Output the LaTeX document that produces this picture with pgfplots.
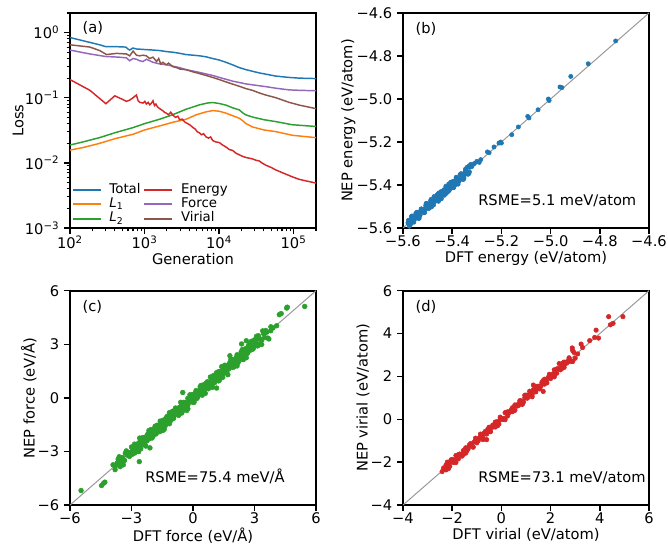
\documentclass[border=0pt]{standalone}
\usepackage{pgfplots}
\pgfplotsset{compat=1.18}
\usepackage{fontspec}
\setmainfont{DejaVu Sans}
\definecolor{tabblue}{HTML}{1F77B4}
\definecolor{taborange}{HTML}{FF7F0E}
\definecolor{tabgreen}{HTML}{2CA02C}
\definecolor{tabred}{HTML}{D62728}
\definecolor{tabpurple}{HTML}{9467BD}
\definecolor{tabbrown}{HTML}{8C564B}
\definecolor{diag}{HTML}{999999}
\pgfplotsset{
  panel/.style={
    scale only axis, width=184.5pt,
    axis line style={line width=1.4pt},
    tick align=outside, tick pos=left,
    major tick length=4.5pt, minor tick length=2.6pt,
    every major tick/.append style={line width=1.1pt, black},
    every minor tick/.append style={line width=0.8pt, black},
    tick label style={font=\fontsize{11}{13}\selectfont},
    xticklabel style={yshift=2pt},
    label style={font=\fontsize{11}{13}\selectfont},
    xlabel shift=-4pt, ylabel shift=-6pt,
  },
  scat/.style={only marks, mark=*, mark size=#1},
}
\newcommand{\tfont}{\fontsize{11}{13}\selectfont}
\begin{document}
\begin{tikzpicture}
\useasboundingbox (0,0) rectangle (501pt,410.25pt);
% ---------------- (a)
\begin{axis}[panel, at={(52.5pt,239.25pt)}, anchor=south west, height=161.25pt,
  xmode=log, ymode=log, xmin=100, xmax=2e5, ymin=1e-3, ymax=2,
  xtick={100,1000,10000,100000},
  xticklabels={10\textsuperscript{2},10\textsuperscript{3},10\textsuperscript{4},10\textsuperscript{5}},
  minor xtick={200,300,400,500,600,700,800,900,2000,3000,4000,5000,6000,7000,8000,9000,20000,30000,40000,50000,60000,70000,80000,90000,200000},
  ytick={0.001,0.01,0.1,1},
  yticklabels={10\textsuperscript{−3},10\textsuperscript{−2},10\textsuperscript{−1},10\textsuperscript{0}},
  minor ytick={0.002,0.003,0.004,0.005,0.006,0.007,0.008,0.009,0.02,0.03,0.04,0.05,0.06,0.07,0.08,0.09,0.2,0.3,0.4,0.5,0.6,0.7,0.8,0.9,2},
  xlabel={Generation}, ylabel={Loss},
  legend columns=3, transpose legend,
  legend cell align=left,
  legend image code/.code={\draw[#1, line width=1.5pt] (0pt,0pt) -- (21pt,0pt);},
  legend style={at={(rel axis cs:0.0,0.0)}, anchor=south west, draw=none, fill=none,
    inner sep=0pt, yshift=1.5pt, xshift=1pt,
    font=\fontsize{10}{11}\selectfont, row sep=0pt,
    nodes={inner sep=0.9pt, text height=7pt, text depth=2pt},
    /tikz/every odd column/.append style={column sep=5pt},
    /tikz/every even column/.append style={column sep=1pt}},
]
\addplot[tabblue, line width=1.1pt] coordinates {(100,0.84)(150,0.75)(250,0.65)(300,0.61)(400,0.61)(560,0.60)(600,0.56)(633,0.54)(700,0.58)(780,0.56)(900,0.555)(1000,0.55)(1300,0.54)(1600,0.53)(2000,0.51)(2400,0.50)(3000,0.48)(3600,0.46)(4500,0.45)(5500,0.44)(6700,0.425)(8200,0.40)(10000,0.38)(12400,0.35)(15200,0.32)(18700,0.29)(23000,0.27)(28000,0.255)(35000,0.24)(42500,0.23)(58000,0.215)(87000,0.205)(120000,0.20)(200000,0.197)};
\addlegendentry{Total}
\addplot[taborange, line width=1.1pt] coordinates {(100,0.0157)(150,0.0172)(252,0.020)(400,0.0235)(702,0.0275)(1000,0.032)(1596,0.0369)(2400,0.042)(3624,0.0468)(5000,0.055)(6702,0.0607)(8226,0.0635)(10096,0.062)(12400,0.058)(15230,0.053)(18700,0.0484)(21000,0.044)(22960,0.0401)(28180,0.0356)(40000,0.032)(57770,0.0302)(96400,0.0265)(200000,0.0244)};
\addlegendentry{\textit{L}\textsubscript{1}}
\addplot[tabgreen, line width=1.1pt] coordinates {(100,0.0188)(150,0.021)(252,0.0245)(400,0.029)(702,0.0348)(1000,0.040)(1596,0.0468)(2400,0.055)(3624,0.0667)(5461,0.0778)(7000,0.083)(8226,0.0845)(10096,0.0815)(12400,0.0770)(15230,0.070)(18700,0.065)(21000,0.058)(22960,0.0545)(28180,0.0505)(40000,0.046)(57770,0.043)(96400,0.0385)(200000,0.0362)};
\addlegendentry{\textit{L}\textsubscript{2}}
\addplot[tabred, line width=1.1pt] coordinates {(100,0.19)(185,0.13)(303,0.081)(399,0.107)(500,0.095)(572,0.088)(633,0.092)(702,0.10)(778,0.11)(820,0.09)(862,0.085)(955,0.083)(1010,0.088)(1058,0.08)(1120,0.085)(1172,0.078)(1230,0.082)(1299,0.09)(1360,0.076)(1420,0.08)(1500,0.072)(1596,0.068)(1700,0.065)(1767,0.063)(1850,0.06)(1958,0.058)(2100,0.055)(2250,0.06)(2404,0.054)(2600,0.05)(2800,0.052)(2953,0.046)(3200,0.047)(3500,0.042)(3800,0.04)(4100,0.038)(4449,0.035)(4800,0.033)(5100,0.03)(5461,0.029)(5800,0.027)(6200,0.028)(6702,0.025)(7200,0.024)(7700,0.025)(8226,0.022)(9000,0.021)(10096,0.0205)(11000,0.019)(12400,0.0175)(13800,0.016)(15230,0.0155)(17000,0.014)(18700,0.0133)(21000,0.0125)(23000,0.0121)(25430,0.0118)(28180,0.0115)(31000,0.011)(34600,0.0107)(38000,0.0099)(42470,0.0092)(50000,0.0085)(57770,0.0078)(70000,0.0071)(87100,0.0064)(96400,0.0061)(118300,0.0056)(145400,0.0053)(200000,0.0049)};
\addlegendentry{Energy}
\addplot[tabpurple, line width=1.1pt] coordinates {(100,0.54)(185,0.47)(300,0.43)(450,0.42)(570,0.41)(633,0.37)(700,0.40)(780,0.39)(860,0.37)(955,0.36)(1060,0.39)(1170,0.37)(1300,0.35)(1600,0.33)(2000,0.32)(2950,0.29)(3600,0.27)(5460,0.245)(8200,0.22)(10100,0.205)(15200,0.18)(23000,0.163)(28000,0.158)(42500,0.148)(58000,0.14)(87000,0.132)(120000,0.13)(200000,0.128)};
\addlegendentry{Force}
\addplot[tabbrown, line width=1.1pt] coordinates {(100,0.65)(185,0.60)(250,0.53)(310,0.46)(420,0.48)(570,0.47)(633,0.44)(702,0.52)(780,0.45)(860,0.44)(955,0.45)(1060,0.44)(1170,0.40)(1300,0.42)(1450,0.36)(1550,0.40)(1650,0.33)(1767,0.35)(1960,0.32)(2100,0.34)(2400,0.30)(2700,0.29)(3000,0.275)(3600,0.27)(4450,0.25)(5460,0.235)(6700,0.22)(8200,0.205)(10100,0.19)(12400,0.175)(15200,0.162)(18700,0.15)(23000,0.138)(28000,0.13)(35000,0.118)(42500,0.11)(58000,0.1)(87000,0.085)(120000,0.077)(200000,0.068)};
\addlegendentry{Virial}
\node[anchor=west, inner sep=0, font=\tfont] at (rel axis cs:0.05,0.93) {(a)};
\end{axis}
% ---------------- (b)
\begin{axis}[panel, at={(302.25pt,239.25pt)}, anchor=south west, height=161.25pt,
  xmin=-5.6, xmax=-4.6, ymin=-5.6, ymax=-4.6,
  xtick={-5.6,-5.4,-5.2,-5.0,-4.8,-4.6}, xticklabels={−5.6,−5.4,−5.2,−5.0,−4.8,−4.6},
  ytick={-5.6,-5.4,-5.2,-5.0,-4.8,-4.6}, yticklabels={−5.6,−5.4,−5.2,−5.0,−4.8,−4.6},
  xlabel={DFT energy (eV/atom)}, ylabel={NEP energy (eV/atom)},
]
\addplot[scat=1.6pt, color=tabblue] coordinates {
(-5.58,-5.576)(-5.57,-5.576)(-5.56,-5.552)(-5.55,-5.553)(-5.54,-5.54)(-5.53,-5.539)(-5.52,-5.514)(-5.51,-5.512)(-5.50,-5.49)(-5.49,-5.497)(-5.48,-5.476)(-5.47,-5.476)(-5.46,-5.452)(-5.45,-5.453)(-5.44,-5.44)(-5.43,-5.439)(-5.42,-5.414)(-5.41,-5.412)(-5.40,-5.39)(-5.39,-5.397)(-5.38,-5.376)(-5.37,-5.376)(-5.36,-5.352)(-5.35,-5.353)(-5.34,-5.34)(-5.33,-5.339)(-5.32,-5.314)
(-5.575,-5.582)(-5.565,-5.56)(-5.555,-5.557)(-5.545,-5.536)(-5.535,-5.545)(-5.525,-5.522)(-5.515,-5.52)(-5.505,-5.498)(-5.495,-5.502)(-5.485,-5.48)(-5.475,-5.477)(-5.465,-5.456)(-5.455,-5.465)(-5.445,-5.442)(-5.435,-5.44)(-5.425,-5.418)(-5.415,-5.422)(-5.405,-5.4)(-5.395,-5.397)(-5.385,-5.376)(-5.375,-5.385)(-5.365,-5.362)(-5.355,-5.36)(-5.345,-5.338)(-5.335,-5.342)
(-5.578,-5.564)(-5.568,-5.580)(-5.558,-5.555)(-5.548,-5.532)(-5.538,-5.553)(-5.528,-5.519)(-5.518,-5.523)(-5.508,-5.496)(-5.498,-5.507)(-5.488,-5.474)(-5.478,-5.490)(-5.468,-5.465)(-5.458,-5.442)(-5.448,-5.463)(-5.438,-5.429)(-5.428,-5.433)(-5.418,-5.406)(-5.408,-5.417)(-5.398,-5.384)(-5.388,-5.400)(-5.378,-5.375)(-5.368,-5.352)(-5.358,-5.373)(-5.348,-5.339)(-5.338,-5.343)(-5.328,-5.316)
(-5.572,-5.585)(-5.562,-5.551)(-5.552,-5.556)(-5.542,-5.527)(-5.532,-5.542)(-5.522,-5.516)(-5.512,-5.528)(-5.502,-5.494)(-5.492,-5.505)(-5.482,-5.471)(-5.472,-5.476)(-5.462,-5.447)(-5.452,-5.462)(-5.442,-5.436)(-5.432,-5.448)(-5.422,-5.414)(-5.412,-5.425)(-5.402,-5.391)(-5.392,-5.396)(-5.382,-5.367)(-5.372,-5.382)(-5.362,-5.356)(-5.352,-5.368)(-5.342,-5.334)(-5.332,-5.345)
(-5.574,-5.592)(-5.564,-5.544)(-5.554,-5.562)(-5.544,-5.527)(-5.534,-5.554)(-5.524,-5.512)(-5.514,-5.529)(-5.504,-5.485)(-5.494,-5.494)(-5.484,-5.502)(-5.474,-5.454)(-5.464,-5.472)(-5.454,-5.437)(-5.444,-5.464)(-5.434,-5.422)(-5.424,-5.439)(-5.414,-5.395)(-5.404,-5.404)(-5.394,-5.412)(-5.384,-5.364)(-5.374,-5.382)(-5.364,-5.347)(-5.354,-5.374)(-5.344,-5.332)(-5.334,-5.349)(-5.324,-5.305)
(-5.566,-5.547)(-5.556,-5.573)(-5.546,-5.537)(-5.536,-5.556)(-5.526,-5.511)(-5.516,-5.526)(-5.506,-5.486)(-5.496,-5.510)(-5.486,-5.467)(-5.476,-5.493)(-5.466,-5.457)(-5.456,-5.476)(-5.446,-5.431)(-5.436,-5.446)(-5.426,-5.406)(-5.416,-5.430)(-5.406,-5.387)(-5.396,-5.413)(-5.386,-5.377)(-5.376,-5.396)(-5.366,-5.351)(-5.356,-5.366)(-5.346,-5.326)(-5.336,-5.350)
(-5.34,-5.318)(-5.31,-5.3)(-5.332,-5.312)(-5.325,-5.305)(-5.3,-5.29)(-5.29,-5.295)(-5.284,-5.282)(-5.257,-5.246)(-5.25,-5.25)(-5.23,-5.223)(-5.21,-5.205)(-5.203,-5.2)(-5.2,-5.205)(-5.158,-5.166)(-5.131,-5.13)(-5.093,-5.081)(-5.088,-5.088)(-5.051,-5.05)(-5.009,-5.0)(-5.006,-5.007)(-4.962,-4.944)(-4.954,-4.947)(-4.918,-4.895)(-4.847,-4.836)(-4.7355,-4.73)};
\addplot[diag, line width=0.75pt] coordinates {(-5.6,-5.6)(-4.6,-4.6)};
\node[anchor=west, inner sep=0, font=\tfont] at (rel axis cs:0.05,0.925) {(b)};
\node[anchor=base west, inner sep=0, font=\tfont] at (rel axis cs:0.305,0.105) {RSME=5.1 meV/atom};
\end{axis}
% ---------------- (c)
\begin{axis}[panel, at={(52.5pt,31.5pt)}, anchor=south west, height=160.7pt,
  xmin=-6, xmax=6, ymin=-6, ymax=6,
  xtick={-6,-3,0,3,6}, xticklabels={−6,−3,0,3,6},
  ytick={-6,-3,0,3,6}, yticklabels={−6,−3,0,3,6},
  xlabel={DFT force (eV/Å)}, ylabel={NEP force (eV/Å)},
]
\addplot[scat=1.8pt, color=tabgreen] coordinates {
(-3.9,-3.75)(-3.8,-4.02)(-3.7,-3.65)(-3.6,-3.3)(-3.5,-3.6)(-3.4,-3.75)(-3.3,-3.1)(-3.2,-3.2)(-3.1,-3.28)(-3.0,-2.75)(-2.9,-2.95)(-2.8,-2.68)(-2.7,-2.98)(-2.6,-2.25)(-2.5,-2.62)(-2.4,-2.32)(-2.3,-2.7)(-2.2,-2.02)(-2.1,-2.08)(-2.0,-2.25)(-1.9,-1.75)(-1.8,-2.02)(-1.7,-1.65)(-1.6,-1.3)(-1.5,-1.6)(-1.4,-1.75)(-1.3,-1.1)(-1.2,-1.2)(-1.1,-1.28)(-1.0,-0.75)(-0.9,-0.95)(-0.8,-0.68)(-0.7,-0.98)(-0.6,-0.25)(-0.5,-0.62)(-0.4,-0.32)(-0.3,-0.7)(-0.2,-0.02)(-0.1,-0.08)(0.0,-0.25)(0.1,0.25)(0.2,-0.02)(0.3,0.35)(0.4,0.7)(0.5,0.4)(0.6,0.25)(0.7,0.9)(0.8,0.8)(0.9,0.72)(1.0,1.25)(1.1,1.05)(1.2,1.32)(1.3,1.02)(1.4,1.75)(1.5,1.38)(1.6,1.68)(1.7,1.3)(1.8,1.98)(1.9,1.92)(2.0,1.75)(2.1,2.25)(2.2,1.98)(2.3,2.35)(2.4,2.7)(2.5,2.4)(2.6,2.25)(2.7,2.9)(2.8,2.8)(2.9,2.72)(3.0,3.25)(3.1,3.05)(3.2,3.32)(3.3,3.02)(3.4,3.75)(3.5,3.38)(3.6,3.68)(3.7,3.3)(3.8,3.98)(3.9,3.92)
(-3.55,-3.63)(-3.45,-3.35)(-3.35,-3.5)(-3.25,-3.03)(-3.15,-3.15)(-3.05,-3.1)(-2.95,-2.81)(-2.85,-3.05)(-2.75,-2.69)(-2.65,-2.77)(-2.55,-2.37)(-2.45,-2.47)(-2.35,-2.26)(-2.25,-2.41)(-2.15,-2.11)(-2.05,-2.13)(-1.95,-1.85)(-1.85,-2.0)(-1.75,-1.53)(-1.65,-1.65)(-1.55,-1.6)(-1.45,-1.31)(-1.35,-1.55)(-1.25,-1.19)(-1.15,-1.27)(-1.05,-0.87)(-0.95,-0.97)(-0.85,-0.76)(-0.75,-0.91)(-0.65,-0.61)(-0.55,-0.63)(-0.45,-0.35)(-0.35,-0.5)(-0.25,-0.03)(-0.15,-0.15)(-0.05,-0.1)(0.05,0.19)(0.15,-0.05)(0.25,0.31)(0.35,0.23)(0.45,0.63)(0.55,0.53)(0.65,0.74)(0.75,0.59)(0.85,0.89)(0.95,0.87)(1.05,1.15)(1.15,1.0)(1.25,1.47)(1.35,1.35)(1.45,1.4)(1.55,1.69)(1.65,1.45)(1.75,1.81)(1.85,1.73)(1.95,2.13)(2.05,2.03)(2.15,2.24)(2.25,2.09)(2.35,2.39)(2.45,2.37)(2.55,2.65)(2.65,2.5)(2.75,2.97)(2.85,2.85)(2.95,2.9)(3.05,3.19)(3.15,2.95)(3.25,3.31)(3.35,3.23)(3.45,3.63)
(-2.45,-2.40)(-2.35,-2.45)(-2.25,-2.13)(-2.15,-2.19)(-2.05,-2.05)(-1.95,-1.87)(-1.85,-1.98)(-1.75,-1.73)(-1.65,-1.6)(-1.55,-1.65)(-1.45,-1.33)(-1.35,-1.39)(-1.25,-1.25)(-1.15,-1.07)(-1.05,-1.18)(-0.95,-0.93)(-0.85,-0.8)(-0.75,-0.85)(-0.65,-0.53)(-0.55,-0.59)(-0.45,-0.45)(-0.35,-0.27)(-0.25,-0.38)(-0.15,-0.13)(-0.05,0.0)(0.05,-0.05)(0.15,0.27)(0.25,0.21)(0.35,0.35)(0.45,0.53)(0.55,0.42)(0.65,0.67)(0.75,0.8)(0.85,0.75)(0.95,1.07)(1.05,1.01)(1.15,1.15)(1.25,1.33)(1.35,1.22)(1.45,1.47)(1.55,1.6)(1.65,1.55)(1.75,1.87)(1.85,1.81)(1.95,1.95)(2.05,2.13)(2.15,2.02)(2.25,2.27)(2.35,2.4)(2.45,2.35)
(-3.65,-3.43)(-3.55,-3.85)(-3.45,-3.35)(-3.35,-3.5)(-3.25,-2.97)(-3.15,-3.23)(-3.05,-3.05)(-2.95,-2.77)(-2.85,-3.09)(-2.75,-2.69)(-2.65,-3.01)(-2.55,-2.41)(-2.45,-2.23)(-2.35,-2.65)(-2.25,-2.15)(-2.15,-2.3)(-2.05,-1.77)(-1.95,-2.03)(-1.85,-1.85)(-1.75,-1.57)(-1.65,-1.89)(-1.55,-1.49)(-1.45,-1.81)(-1.35,-1.21)(-1.25,-1.03)(-1.15,-1.45)(-1.05,-0.95)(-0.95,-1.1)(-0.85,-0.57)(-0.75,-0.83)(-0.65,-0.65)(-0.55,-0.37)(-0.45,-0.69)(-0.35,-0.29)(-0.25,-0.61)(-0.15,-0.01)(-0.05,0.17)(0.05,-0.25)(0.15,0.25)(0.25,0.1)(0.35,0.63)(0.45,0.37)(0.55,0.55)(0.65,0.83)(0.75,0.51)(0.85,0.91)(0.95,0.59)(1.05,1.19)(1.15,1.37)(1.25,0.95)(1.35,1.45)(1.45,1.3)(1.55,1.83)(1.65,1.57)(1.75,1.75)(1.85,2.03)(1.95,1.71)(2.05,2.11)(2.15,1.79)(2.25,2.39)(2.35,2.57)(2.45,2.15)(2.55,2.65)(2.65,2.5)(2.75,3.03)(2.85,2.77)(2.95,2.95)(3.05,3.23)(3.15,2.91)(3.25,3.31)(3.35,2.99)(3.45,3.59)(3.55,3.77)(3.65,3.35)
(-2.95,-3.15)(-2.85,-2.59)(-2.75,-2.79)(-2.65,-2.53)(-2.55,-2.85)(-2.45,-2.25)(-2.35,-2.31)(-2.25,-2.37)(-2.15,-1.83)(-2.05,-2.21)(-1.95,-2.15)(-1.85,-1.59)(-1.75,-1.79)(-1.65,-1.53)(-1.55,-1.85)(-1.45,-1.25)(-1.35,-1.31)(-1.25,-1.37)(-1.15,-0.83)(-1.05,-1.21)(-0.95,-1.15)(-0.85,-0.59)(-0.75,-0.79)(-0.65,-0.53)(-0.55,-0.85)(-0.45,-0.25)(-0.35,-0.31)(-0.25,-0.37)(-0.15,0.17)(-0.05,-0.21)(0.05,-0.15)(0.15,0.41)(0.25,0.21)(0.35,0.47)(0.45,0.15)(0.55,0.75)(0.65,0.69)(0.75,0.63)(0.85,1.17)(0.95,0.79)(1.05,0.85)(1.15,1.41)(1.25,1.21)(1.35,1.47)(1.45,1.15)(1.55,1.75)(1.65,1.69)(1.75,1.63)(1.85,2.17)(1.95,1.79)(2.05,1.85)(2.15,2.41)(2.25,2.21)(2.35,2.47)(2.45,2.15)(2.55,2.75)(2.65,2.69)(2.75,2.63)(2.85,3.17)(2.95,2.79)
(-5.46,-5.19)(-4.46,-4.91)(-4.36,-4.78)(-4.3,-4.72)(5.45,5.12)(4.57,5.03)(4.6,5.08)(4.21,4.66)(4.3,4.72)(4.08,4.04)(3.79,3.76)(3.19,3.48)(3.1,3.45)(2.37,3.02)(1.8,2.36)(-3.8,-3.85)(-3.7,-3.72)(-2.62,-3.57)(1.15,0.55)(-0.5,0.3)(-2.1,-2.8)(2.6,3.2)};
\addplot[diag, line width=0.75pt] coordinates {(-6,-6)(6,6)};
\node[anchor=west, inner sep=0, font=\tfont] at (rel axis cs:0.05,0.925) {(c)};
\node[anchor=base west, inner sep=0, font=\tfont] at (rel axis cs:0.305,0.105) {RSME=75.4 meV/Å};
\end{axis}
% ---------------- (d)
\begin{axis}[panel, at={(302.25pt,31.5pt)}, anchor=south west, height=160.7pt,
  xmin=-4, xmax=6, ymin=-4, ymax=6,
  xtick={-4,-2,0,2,4,6}, xticklabels={−4,−2,0,2,4,6},
  ytick={-4,-2,0,2,4,6}, yticklabels={−4,−2,0,2,4,6},
  xlabel={DFT virial (eV/atom)}, ylabel={NEP virial (eV/atom)},
]
\addplot[scat=1.7pt, color=tabred] coordinates {
(-2.35,-2.27)(-2.25,-2.36)(-2.15,-2.12)(-2.05,-1.9)(-1.95,-2.0)(-1.85,-2.02)(-1.75,-1.65)(-1.65,-1.65)(-1.55,-1.64)(-1.45,-1.33)(-1.35,-1.38)(-1.25,-1.19)(-1.15,-1.29)(-1.05,-0.88)(-0.95,-1.01)(-0.85,-0.81)(-0.75,-0.95)(-0.65,-0.56)(-0.55,-0.54)(-0.45,-0.57)(-0.35,-0.27)(-0.25,-0.36)(-0.15,-0.12)(-0.05,0.10)(0.05,0.0)(0.15,-0.02)(0.25,0.35)(0.35,0.35)(0.45,0.36)(0.55,0.67)(0.65,0.62)(0.75,0.81)(0.85,0.71)(0.95,1.12)(1.05,0.99)(1.15,1.19)(1.25,1.05)(1.35,1.44)(1.45,1.46)(1.55,1.43)(1.65,1.73)(1.75,1.64)(1.85,1.88)(1.95,2.1)(2.05,2.0)(2.15,1.98)(2.25,2.35)(2.35,2.35)(2.45,2.36)(2.55,2.67)(2.65,2.62)(2.75,2.81)(2.85,2.71)(2.95,3.12)
(-2.3,-2.35)(-2.2,-2.14)(-2.1,-2.19)(-2.0,-1.87)(-1.9,-1.9)(-1.8,-1.83)(-1.7,-1.62)(-1.6,-1.72)(-1.5,-1.46)(-1.4,-1.47)(-1.3,-1.19)(-1.2,-1.21)(-1.1,-1.05)(-1.0,-1.1)(-0.9,-0.88)(-0.8,-0.85)(-0.7,-0.64)(-0.6,-0.69)(-0.5,-0.37)(-0.4,-0.4)(-0.3,-0.33)(-0.2,-0.12)(-0.1,-0.22)(0.0,0.04)(0.1,0.03)(0.2,0.31)(0.3,0.29)(0.4,0.45)(0.5,0.4)(0.6,0.62)(0.7,0.65)(0.8,0.86)(0.9,0.81)(1.0,1.13)(1.1,1.1)(1.2,1.17)(1.3,1.38)(1.4,1.28)(1.5,1.54)(1.6,1.53)(1.7,1.81)(1.8,1.79)(1.9,1.95)(2.0,1.9)(2.1,2.12)(2.2,2.15)(2.3,2.36)(2.4,2.31)(2.5,2.63)(2.6,2.6)(2.7,2.67)
(-2.25,-2.13)(-2.15,-2.3)(-2.05,-2.0)(-1.95,-2.01)(-1.85,-1.69)(-1.75,-1.85)(-1.65,-1.65)(-1.55,-1.46)(-1.45,-1.58)(-1.35,-1.32)(-1.25,-1.13)(-1.15,-1.3)(-1.05,-1.0)(-0.95,-1.01)(-0.85,-0.69)(-0.75,-0.85)(-0.65,-0.65)(-0.55,-0.46)(-0.45,-0.58)(-0.35,-0.32)(-0.25,-0.13)(-0.15,-0.3)(-0.05,0.0)(0.05,-0.01)(0.15,0.31)(0.25,0.15)(0.35,0.35)(0.45,0.54)(0.55,0.42)(0.65,0.68)(0.75,0.87)(0.85,0.7)(0.95,1.0)(1.05,0.99)(1.15,1.31)(1.25,1.15)(1.35,1.35)(1.45,1.54)(1.55,1.42)(1.65,1.68)(1.75,1.87)(1.85,1.7)(1.95,2.0)(2.05,1.99)(2.15,2.31)(2.25,2.15)(2.35,2.35)(2.45,2.54)(2.55,2.42)(2.65,2.68)(2.75,2.87)(2.85,2.7)
(4.36,4.79)(4.94,4.79)(4.54,4.48)(4.43,4.41)(3.85,4.16)(3.95,3.79)(3.79,3.82)(3.59,3.67)(3.24,3.51)(2.88,3.33)(2.9,3.2)(3.0,2.85)(3.1,3.05)(3.3,3.35)(-2.41,-2.44)(-2.2,-2.0)(1.3,1.6)(-0.6,-0.95)(1.7,1.3)(2.35,2.6)(2.9,2.7)};
\addplot[diag, line width=0.75pt] coordinates {(-4,-4)(6,6)};
\node[anchor=west, inner sep=0, font=\tfont] at (rel axis cs:0.05,0.925) {(d)};
\node[anchor=base west, inner sep=0, font=\tfont] at (rel axis cs:0.305,0.105) {RSME=73.1 meV/atom};
\end{axis}
\end{tikzpicture}
\end{document}
